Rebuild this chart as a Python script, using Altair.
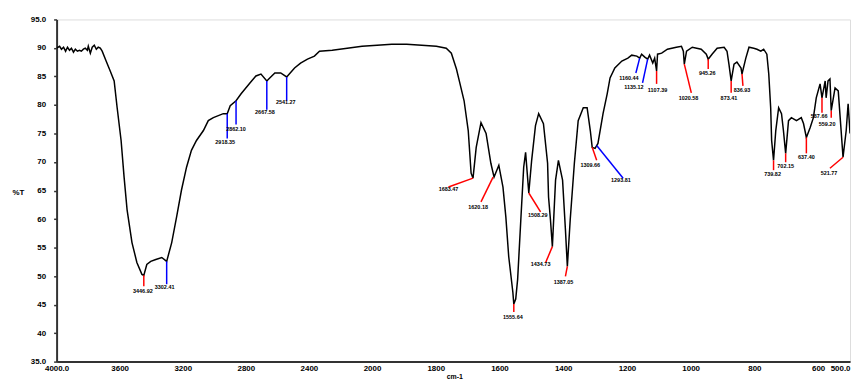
import altair as alt
import pandas as pd

# ---- spectrum (wavenumber cm-1, %T) ----
wavenumber = [4000, 3981, 3969, 3956, 3943, 3931, 3918, 3906, 3893, 3881, 3868, 3855, 3843, 3830, 3818,
              3805, 3799, 3786, 3774, 3761, 3748, 3736, 3723, 3711, 3686, 3660, 3635, 3616, 3591, 3572,
              3553, 3522, 3491, 3459, 3447, 3428, 3403, 3371, 3333, 3302, 3270, 3239, 3208, 3176, 3145,
              3113, 3069, 3038, 3006, 2943, 2918, 2899, 2862, 2830, 2774, 2736, 2704, 2667, 2642, 2616,
              2579, 2541, 2491, 2453, 2409, 2365, 2333, 2252, 2157, 2063, 1984, 1938, 1891, 1844, 1798,
              1767, 1751, 1735, 1726, 1711, 1698, 1689, 1683, 1673, 1658, 1642, 1627, 1617, 1602, 1589,
              1580, 1571, 1558, 1555, 1549, 1543, 1533, 1524, 1518, 1508, 1499, 1487, 1477, 1462, 1449,
              1446, 1440, 1434, 1424, 1415, 1402, 1393, 1387, 1378, 1365, 1353, 1337, 1325, 1315, 1309,
              1300, 1291, 1275, 1262, 1253, 1238, 1216, 1197, 1185, 1169, 1160, 1154, 1144, 1135, 1129,
              1119, 1113, 1107, 1104, 1091, 1073, 1045, 1029, 1023, 1020, 1013, 995, 967, 951, 945,
              933, 917, 895, 886, 880, 873, 864, 855, 842, 839, 827, 817, 802, 792, 780,
              771, 761, 755, 749, 746, 740, 733, 724, 715, 709, 702, 693, 684, 668, 653,
              646, 637, 625, 615, 606, 594, 588, 578, 575, 569, 563, 559, 547, 537, 528,
              522, 512, 506, 500]
transmittance = [89.96, 90.30, 89.78, 90.13, 89.43, 90.13, 89.60, 89.96, 89.26, 89.78, 89.43, 89.60, 89.43, 89.78, 89.96,
                 89.60, 90.30, 89.09, 90.13, 90.48, 89.78, 90.13, 89.96, 89.43, 87.70, 85.96, 84.22, 79.52, 73.78, 67.35,
                 61.61, 55.87, 52.39, 50.30, 50.13, 52.04, 52.57, 52.91, 53.26, 52.57, 55.87, 60.39, 65.09, 69.09, 72.04,
                 73.78, 75.52, 77.26, 77.78, 78.48, 78.48, 79.87, 80.74, 81.96, 83.87, 85.09, 85.43, 84.22, 84.91, 85.61,
                 85.61, 84.91, 86.48, 87.35, 88.04, 88.57, 89.43, 89.60, 89.96, 90.30, 90.48, 90.65, 90.65, 90.48, 90.30,
                 89.96, 89.09, 86.30, 84.22, 80.74, 75.52, 68.04, 67.17, 72.57, 76.91, 75.00, 69.78, 67.35, 69.43, 65.61,
                 60.39, 53.43, 47.17, 45.09, 45.96, 49.43, 59.87, 69.09, 71.70, 64.57, 70.30, 76.39, 78.48, 76.74, 69.78,
                 63.87, 59.87, 55.17, 66.83, 70.30, 66.83, 58.13, 51.70, 59.87, 69.78, 77.26, 79.52, 79.52, 75.52, 72.57,
                 72.39, 73.26, 78.48, 81.96, 84.74, 86.48, 87.70, 88.22, 88.74, 88.57, 88.22, 88.91, 88.39, 88.04, 88.74,
                 87.35, 88.22, 85.96, 88.91, 89.09, 89.78, 90.13, 90.30, 89.43, 87.17, 89.43, 90.13, 89.78, 88.91, 88.04,
                 88.91, 89.96, 90.13, 89.43, 87.17, 84.22, 87.17, 87.52, 86.48, 85.43, 88.22, 90.13, 89.96, 89.78, 89.43,
                 89.78, 88.91, 85.43, 79.52, 73.78, 70.30, 75.52, 79.52, 78.48, 75.52, 71.52, 77.26, 77.78, 77.26, 77.78,
                 76.74, 74.30, 76.04, 77.78, 81.26, 83.70, 81.26, 84.22, 81.26, 84.22, 84.57, 79.00, 83.00, 82.48, 75.52,
                 70.83, 75.52, 80.22, 75.00]

# ---- peak annotations ----
peak_wn = [3447, 3302, 2918, 2862, 2667, 2541, 1683, 1620, 1555, 1508, 1434, 1387, 1309, 1295,
           1160, 1135, 1107, 1020, 945, 873, 839, 740, 702, 637, 588, 559, 522]
peak_t = [50.13, 52.57, 78.48, 80.74, 84.22, 84.91, 67.17, 67.35, 45.09, 64.57, 55.17, 51.70, 72.57, 72.91,
          88.22, 88.04, 85.96, 87.17, 88.04, 84.22, 85.43, 70.30, 71.52, 74.30, 81.26, 79.00, 70.83]
end_wn = [3447, 3302, 2918, 2862, 2667, 2541, 1760, 1658, 1555, 1471, 1455, 1393, 1295, 1212,
          1172, 1151, 1107, 998, 945, 873, 836, 740, 702, 637, 588, 559, 563]
end_t = [48.22, 48.57, 74.13, 76.57, 79.17, 80.74, 65.61, 63.00, 43.70, 61.26, 52.39, 49.96, 70.30, 67.17,
         85.61, 83.87, 83.70, 82.13, 86.30, 82.13, 83.35, 68.57, 69.96, 71.52, 78.65, 77.78, 68.91]
label_wn = [3453, 3315, 2931, 2862, 2679, 2547, 1760, 1667, 1558, 1480, 1471, 1399, 1315, 1219,
            1194, 1178, 1104, 1007, 948, 880, 839, 743, 702, 637, 597, 572, 566]
label_t = [47.35, 48.04, 73.43, 75.70, 78.83, 80.57, 65.26, 62.13, 42.83, 60.74, 52.04, 48.91, 69.43, 66.83,
           84.74, 83.17, 82.65, 81.26, 85.61, 81.26, 82.65, 67.87, 69.26, 70.83, 78.13, 76.74, 68.04]
peak_text = ["3446.92", "3302.41", "2918.35", "2862.10", "2667.58", "2541.27", "1683.47", "1620.18",
             "1555.64", "1508.29", "1434.73", "1387.05", "1309.66", "1293.81", "1160.44", "1135.12",
             "1107.39", "1020.58", "945.26", "873.41", "836.93", "739.82", "702.15", "637.40",
             "587.66", "559.20", "521.77"]
peak_kind = ["r", "b", "b", "b", "b", "b", "r", "r", "r", "r", "r", "r", "r", "b",
             "b", "b", "r", "r", "r", "r", "r", "r", "r", "r", "r", "r", "r"]

x_ticks = [4000, 3600, 3200, 2800, 2400, 2000, 1800, 1600, 1400, 1200, 1000, 800, 600, 500]
y_ticks = [35, 40, 45, 50, 55, 60, 65, 70, 75, 80, 85, 90, 95]

spec = pd.DataFrame({"wn": wavenumber, "t": transmittance, "i": range(len(wavenumber))})
ann = pd.DataFrame({"wn": peak_wn, "t": peak_t, "wn2": end_wn, "t2": end_t,
                    "lwn": label_wn, "lt": label_t, "txt": peak_text, "kind": peak_kind})

xscale = alt.Scale(domain=[4000, 2000, 500], range=[0, 318, 800], zero=False, nice=False)
yscale = alt.Scale(domain=[35, 95], zero=False, nice=False)

lab_font = "Liberation Sans"

xaxis = alt.Axis(values=x_ticks, title="cm-1", grid=False, ticks=False,
                 labelExpr="datum.value == 4000 || datum.value == 500 ? format(datum.value, '.1f') : format(datum.value, 'd')",
                 labelAlign={"condition": {"test": "datum.value == 500", "value": "right"}, "value": "center"},
                 labelFont=lab_font, labelFontSize=8, labelFontWeight="bold", labelColor="#000",
                 labelPadding=3, labelOverlap=False, labelFlush=False,
                 domainColor="#333", domainWidth=2,
                 titleFont=lab_font, titleFontSize=7, titleFontWeight="bold", titleColor="#000",
                 titleX=401, titleY=15, titleAlign="center", titleBaseline="middle")
yaxis = alt.Axis(values=y_ticks, title="%T", grid=False, tickSize=3, tickColor="#333", tickWidth=1.5,
                 labelExpr="datum.value == 95 || datum.value == 35 ? format(datum.value, '.1f') : format(datum.value, 'd')",
                 labelFont=lab_font, labelFontSize=8, labelFontWeight="bold", labelColor="#000",
                 labelPadding=8, labelOverlap=False, labelFlush=False, labelBound=False,
                 domainColor="#333", domainWidth=2,
                 titleFont=lab_font, titleFontSize=8, titleFontWeight="bold", titleColor="#000",
                 titleAngle=0, titleX=-39, titleY=175, titleAlign="center", titleBaseline="middle")

X = lambda f: alt.X(f, scale=xscale, axis=xaxis)
Y = lambda f: alt.Y(f, scale=yscale, axis=yaxis)

line = alt.Chart(spec).mark_line(color="black", strokeWidth=1.5, clip=True).encode(
    x=X("wn:Q"),
    y=Y("t:Q"),
    order="i:Q",
)

color_scale = alt.Scale(domain=["r", "b"], range=["#ff0000", "#0000ff"])

rules = alt.Chart(ann).mark_rule(strokeWidth=1.5).encode(
    x=X("wn:Q"),
    y=Y("t:Q"),
    x2="wn2:Q",
    y2="t2:Q",
    color=alt.Color("kind:N", scale=color_scale, legend=None),
)

labels = alt.Chart(ann).mark_text(font=lab_font, fontSize=5.5, fontWeight="bold", color="#000",
                                  align="center", baseline="middle").encode(
    x=X("lwn:Q"),
    y=Y("lt:Q"),
    text="txt:N",
)

chart = alt.layer(line, rules, labels).properties(
    width=800, height=345,
    autosize=alt.AutoSizeParams(type="none"),
    padding={"left": 49, "top": 10, "right": 4, "bottom": 18},
).configure_view(stroke=None).configure(background="white")

chart.save("out.html", embed_options={"renderer": "svg", "actions": False})
